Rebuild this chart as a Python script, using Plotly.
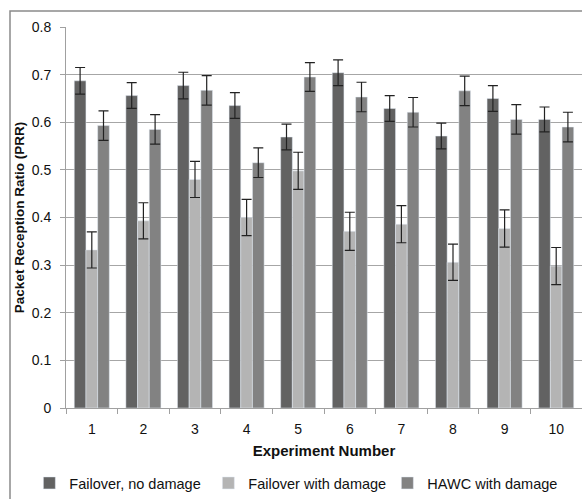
import plotly.graph_objects as go

experiments = ["1", "2", "3", "4", "5", "6", "7", "8", "9", "10"]
failover_no_damage = [0.687, 0.656, 0.677, 0.635, 0.569, 0.704, 0.629, 0.571, 0.650, 0.606]
failover_no_damage_err = [0.028, 0.027, 0.028, 0.027, 0.027, 0.027, 0.027, 0.027, 0.027, 0.026]
failover_with_damage = [0.332, 0.393, 0.480, 0.400, 0.498, 0.371, 0.386, 0.306, 0.377, 0.298]
failover_with_damage_err = [0.038, 0.038, 0.038, 0.038, 0.039, 0.040, 0.039, 0.038, 0.039, 0.039]
hawc_with_damage = [0.593, 0.585, 0.667, 0.515, 0.695, 0.653, 0.621, 0.666, 0.606, 0.590]
hawc_with_damage_err = [0.031, 0.031, 0.031, 0.031, 0.030, 0.031, 0.031, 0.031, 0.031, 0.031]
y_ticks = [0, 0.1, 0.2, 0.3, 0.4, 0.5, 0.6, 0.7, 0.8]
y_tick_labels = ["0", "0.1", "0.2", "0.3", "0.4", "0.5", "0.6", "0.7", "0.8"]

FONT = "Liberation Sans, Arial, sans-serif"

def err(vals):
    return dict(type="data", array=vals, visible=True, color="#222222", thickness=1.2, width=5)

fig = go.Figure()
fig.add_trace(go.Bar(name="Failover, no damage", x=experiments, y=failover_no_damage,
                     error_y=err(failover_no_damage_err), marker=dict(color="#626262")))
fig.add_trace(go.Bar(name="Failover with damage", x=experiments, y=failover_with_damage,
                     error_y=err(failover_with_damage_err), marker=dict(color="#b4b4b4")))
fig.add_trace(go.Bar(name="HAWC with damage", x=experiments, y=hawc_with_damage,
                     error_y=err(hawc_with_damage_err), marker=dict(color="#828282")))

fig.update_layout(
    width=582, height=499,
    margin=dict(l=66, r=0, t=27, b=89),
    paper_bgcolor="white", plot_bgcolor="white",
    barmode="group", bargap=0.32, bargroupgap=0,
    font=dict(family=FONT, size=14, color="#111111"),
    showlegend=True,
    legend=dict(orientation="h", x=-0.071, xanchor="left", y=-0.198, yanchor="middle",
                font=dict(size=14.5), itemwidth=30, entrywidth=134, entrywidthmode="pixels",
                bgcolor="rgba(0,0,0,0)"),
    xaxis=dict(
        type="category",
        title=dict(text="<b>Experiment Number</b>", font=dict(size=15), standoff=9),
        showline=True, linecolor="#a0a0a0", linewidth=1,
        ticks="outside", tickson="boundaries", ticklen=5, tickcolor="#a0a0a0",
        showgrid=False, tickfont=dict(size=14), ticklabelstandoff=8,
    ),
    yaxis=dict(
        range=[0, 0.8], tickvals=y_ticks, ticktext=y_tick_labels,
        title=dict(text="<b>Packet Reception Ratio (PRR)</b>", font=dict(size=13.5), standoff=4),
        showline=True, linecolor="#a0a0a0", linewidth=1,
        ticks="outside", ticklen=5, tickcolor="#a0a0a0",
        showgrid=True, gridcolor="#a6a6a6", gridwidth=1,
        zeroline=False, tickfont=dict(size=14), ticklabelstandoff=6,
    ),
)

# outer chart-area border
fig.add_shape(type="rect", xref="paper", yref="paper",
              x0=(10 - 66) / 516, x1=1.05, y0=-0.4, y1=(410 - 11) / 383,
              line=dict(color="#8a8a8a", width=1.5), layer="above")

fig.write_html("out.html", config={"displayModeBar": False},
               post_script="document.body.style.margin='0';document.body.style.overflow='hidden';document.documentElement.style.overflow='hidden';")
